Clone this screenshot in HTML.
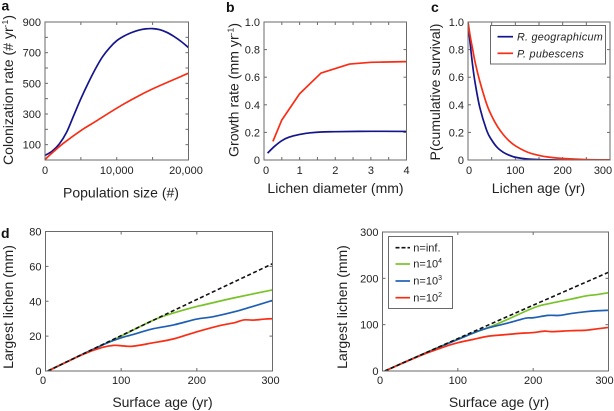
<!DOCTYPE html>
<html>
<head>
<meta charset="utf-8">
<style>
html,body{margin:0;padding:0;background:#fff;width:614px;height:411px;overflow:hidden}
svg{display:block;font-family:"Liberation Sans",sans-serif;filter:blur(0.3px)}
</style>
</head>
<body>
<svg id="fig" width="614" height="411" viewBox="0 0 614 411" xmlns="http://www.w3.org/2000/svg"></svg>
<script>
// Panel a
const aBlueX = [0,1000,2000,3000,4000,5000,6000,7000,8000,9000,10000,11000,12000,13000,14000,15000,16000,17000,18000,19000,20000];
const aBlueY = [30,58,105,180,290,400,500,592,672,732,778,808,830,846,855,857,850,832,805,772,733];
const aRedX = [0,1250,2650,5000,6272,7300,10000,12400,15000,20000];
const aRedY = [3,57,112,192,229,259,338,402,464,566];
const aXTicks = [0,5000,10000,15000,20000];
const aXLabels = ["0","","10,000","","20,000"];
const aYTicks = [0,100,200,300,400,500,600,700,800,900];
const aYLabels = ["","100","","300","","500","","700","","900"];
// Panel b
const bBlueX = [0.1,0.3,0.5,0.7,1,1.3,1.6,2,3,4];
const bBlueY = [0.05,0.1,0.14,0.165,0.185,0.197,0.203,0.205,0.208,0.207];
const bRedX = [0.25,0.5,1,1.6,2.4,3,4];
const bRedY = [0.135,0.29,0.48,0.63,0.695,0.708,0.713];
const bXTicks = [0,0.5,1,1.5,2,2.5,3,3.5,4];
const bXLabels = ["0","","1","","2","","3","","4"];
const rateTicks = [0,0.2,0.4,0.6,0.8,1];
const rateLabels = ["0","0.2","0.4","0.6","0.8","1.0"];
// Panel c
const cX = [0,5,10,15,25,40,50,62,75,87,100,125,150,175,200,250,300];
const cBlueY = [1,0.83,0.68,0.56,0.38,0.21,0.145,0.09,0.055,0.035,0.02,0.007,0.003,0.001,0,0,0];
const cRedY = [1,0.89,0.8,0.71,0.57,0.4,0.32,0.244,0.182,0.138,0.103,0.058,0.033,0.019,0.011,0.003,0.001];
const cXTicks = [0,50,100,150,200,250,300];
const cXLabels = ["0","","100","","200","","300"];
// Panel d (left)
const dInfX = [3,100,200,300];
const dInfY = [0,20.3,41,61.5];
const dGreenX = [3,50,100,125,150,175,200,210,250,300];
const dGreenY = [0,9.8,20,25.5,30.5,34,37,38,42,46.5];
const dBlueX = [3,50,80,100,120,140,170,200,220,250,270,300];
const dBlueY = [0,9.8,15.8,19,21.5,24,26.5,29.8,31,34,36.5,40.5];
const dRedX = [3,50,75,90,100,115,140,170,200,230,250,262,275,290,300];
const dRedY = [0,9.6,13.5,14.7,14.5,14.2,16,18.5,22.5,26,27.7,29.3,29.2,29.8,30];
const dXTicks = [0,100,200,300];
const dXLabels = ["0","100","200","300"];
const dYTicks = [0,20,40,60,80];
const dYLabels = ["0","20","40","60","80"];
// Panel e (right)
const eInfX = [3,100,200,300];
const eInfY = [0,70,142,213];
const eGreenX = [3,50,100,150,200,220,250,270,285,300];
const eGreenY = [0,34,69,100,136,145,155,162,165,169];
const eBlueX = [3,50,100,130,150,170,190,200,220,235,250,270,285,300];
const eBlueY = [0,34,68,88,97,105,114,115,120,120,124,128,130,131];
const eRedX = [3,50,80,100,120,140,160,180,200,215,225,250,270,285,300];
const eRedY = [0,33,51,61,68,75,78,81,83,86,85,87,88,91,94];
const eYTicks = [0,100,200,300];
const eYLabels = ["0","100","200","300"];

const NS = "http://www.w3.org/2000/svg";
const fig = document.getElementById("fig");
const AXIS = "#6a6a6a", TEXT = "#222", NAVY = "#14148c", RED = "#fa2d14", GREEN = "#78c328", BLUE = "#1e5fb4", BLACK = "#111";
const TICK_FONT = 11, TITLE_FONT = 14;

function mk(tag, attrs, parent) {
  const e = document.createElementNS(NS, tag);
  for (const k in attrs) e.setAttribute(k, attrs[k]);
  (parent || fig).appendChild(e);
  return e;
}
function label(x, y, str, size, anchor, parent) {
  const t = mk("text", {x: x, y: y, "font-size": size, "text-anchor": anchor || "middle", fill: TEXT}, parent);
  t.textContent = str;
  
  
  return t;
}
function smooth(pts) {
  let d = "M" + pts[0][0].toFixed(2) + " " + pts[0][1].toFixed(2);
  for (let i = 0; i < pts.length - 1; i++) {
    const p0 = pts[Math.max(i - 1, 0)], p1 = pts[i], p2 = pts[i + 1], p3 = pts[Math.min(i + 2, pts.length - 1)];
    const c1x = p1[0] + (p2[0] - p0[0]) / 6, c1y = p1[1] + (p2[1] - p0[1]) / 6;
    const c2x = p2[0] - (p3[0] - p1[0]) / 6, c2y = p2[1] - (p3[1] - p1[1]) / 6;
    d += "C" + c1x.toFixed(2) + " " + c1y.toFixed(2) + " " + c2x.toFixed(2) + " " + c2y.toFixed(2) + " " + p2[0].toFixed(2) + " " + p2[1].toFixed(2);
  }
  return d;
}
function panel(o) {
  const g = mk("g", {});
  
  
  const sx = v => o.l + (v - o.xMin) / (o.xMax - o.xMin) * (o.r - o.l);
  const sy = v => o.b - (v - o.yMin) / (o.yMax - o.yMin) * (o.b - o.t);
  const axisG = mk("g", {stroke: AXIS, "stroke-width": 1, fill: "none"}, g);
  
  
  o.xTicks.forEach((v, i) => {
    const x = sx(v);
    mk("line", {x1: x, x2: x, y1: o.b, y2: o.b - 3}, axisG);
    mk("line", {x1: x, x2: x, y1: o.t, y2: o.t + 3}, axisG);
    let dx = 0;
    if (i === 0) dx = o.firstDx || 0;
    if (i === o.xTicks.length - 1) dx = o.lastDx || 0;
    if (o.xLabels[i]) label(x + dx, o.b + (o.xLabY || 14), o.xLabels[i], TICK_FONT, "middle", g);
  });
  o.yTicks.forEach((v, i) => {
    const y = sy(v);
    mk("line", {x1: o.l, x2: o.l + 3, y1: y, y2: y}, axisG);
    mk("line", {x1: o.r, x2: o.r - 3, y1: y, y2: y}, axisG);
    if (o.yLabels[i]) label(o.l - 4, y + 4, o.yLabels[i], TICK_FONT, "end", g);
  });
  const clip = o.name + "-clip";
  const cp = mk("clipPath", {id: clip}, g);
  mk("rect", {x: o.l, y: o.t, width: o.r - o.l, height: o.b - o.t}, cp);
  o.series.forEach(s => {
    const pts = s.x.map((v, i) => [sx(v), sy(s.y[i])]);
    const p = mk("path", {d: s.straight ? "M" + pts.map(q => q[0].toFixed(2) + " " + q[1].toFixed(2)).join("L") : smooth(pts), fill: "none", stroke: s.color, "stroke-width": s.w || 1.7, "stroke-linejoin": "round", "clip-path": "url(#" + clip + ")"}, g);
    if (s.dash) p.setAttribute("stroke-dasharray", s.dash);
    
    
  });
  const frame = mk("rect", {x: o.l, y: o.t, width: o.r - o.l, height: o.b - o.t, fill: "none", stroke: AXIS, "stroke-width": 1}, g);
  
  
  label(o.xtX, o.xtY, o.xTitle, TITLE_FONT, "middle", g);
  return g;
}
function rotTitle(x, y, parts, g, len) {
  const t = mk("text", {x: x, y: y, "font-size": TITLE_FONT, "text-anchor": "middle", fill: TEXT, transform: "rotate(-90 " + x + " " + y + ")"}, g);
  if (len) {
    t.setAttribute("textLength", len);
    t.setAttribute("lengthAdjust", "spacingAndGlyphs");
  }
  
  
  parts.forEach(p => {
    const s = mk("tspan", {}, t);
    if (p.sup) { s.setAttribute("font-size", 8.5); s.setAttribute("dy", -5); }
    if (p.down) { s.setAttribute("dy", 5); }
    s.textContent = p.s;
  });
}
function letter(x, y, s) {
  const t = mk("text", {x: x, y: y, "font-size": 14, "font-weight": "bold", fill: "#111"});
  
  
  t.textContent = s;
}

const ga = panel({name: "panel-a", l: 45, r: 188.5, t: 22, b: 160, xMin: 0, xMax: 20000, yMin: 0, yMax: 900,
  xTicks: aXTicks, xLabels: aXLabels, yTicks: aYTicks, yLabels: aYLabels, lastDx: -2.5, xTitle: "Population size (#)", xtX: 121, xtY: 197.5,
  series: [{name: "blue-colonization-line", x: aBlueX, y: aBlueY, color: NAVY}, {name: "red-colonization-line", x: aRedX, y: aRedY, color: RED}]});
rotTitle(13, 90, [{s: "Colonization rate (# yr"}, {s: "-1", sup: 1}, {s: ")", down: 1}], ga, 150);

const gb = panel({name: "panel-b", l: 264, r: 406.5, t: 22, b: 160, xMin: 0, xMax: 4, yMin: 0, yMax: 1,
  xTicks: bXTicks, xLabels: bXLabels, yTicks: rateTicks, yLabels: rateLabels, firstDx: 2, xTitle: "Lichen diameter (mm)", xtX: 335.5, xtY: 193,
  series: [{name: "blue-growth-line", x: bBlueX, y: bBlueY, color: NAVY}, {name: "red-growth-line", x: bRedX, y: bRedY, color: RED, straight: true}]});
rotTitle(238.5, 90, [{s: "Growth rate (mm yr"}, {s: "-1", sup: 1}, {s: ")", down: 1}], gb, 134);

const gc = panel({name: "panel-c", l: 468, r: 610, t: 22, b: 160, xMin: 0, xMax: 300, yMin: 0, yMax: 1,
  xTicks: cXTicks, xLabels: cXLabels, yTicks: rateTicks, yLabels: rateLabels, firstDx: 1, lastDx: -7, xTitle: "Lichen age (yr)", xtX: 538.5, xtY: 193,
  series: [{name: "r-geographicum-line", x: cX, y: cBlueY, color: NAVY}, {name: "p-pubescens-line", x: cX, y: cRedY, color: RED}]});
rotTitle(440, 92, [{s: "P(cumulative survival)"}], gc);

const gd = panel({name: "panel-d-left", l: 45.5, r: 272.5, t: 231.5, b: 371, xMin: 0, xMax: 300, yMin: 0, yMax: 80,
  xTicks: dXTicks, xLabels: dXLabels, yTicks: dYTicks, yLabels: dYLabels, firstDx: -2.5, lastDx: -2, xLabY: 13, xTitle: "Surface age (yr)", xtX: 162.5, xtY: 407,
  series: [
    {name: "n-1e4-line", x: dGreenX, y: dGreenY, color: GREEN},
    {name: "n-1e3-line", x: dBlueX, y: dBlueY, color: BLUE},
    {name: "n-1e2-line", x: dRedX, y: dRedY, color: RED},
    {name: "n-inf-line", x: dInfX, y: dInfY, color: BLACK, dash: "4 2.5", w: 1.6}]});
rotTitle(13, 307, [{s: "Largest lichen (mm)"}], gd);

const ge = panel({name: "panel-d-right", l: 382.5, r: 608.5, t: 232, b: 371, xMin: 0, xMax: 300, yMin: 0, yMax: 300,
  xTicks: dXTicks, xLabels: dXLabels, yTicks: eYTicks, yLabels: eYLabels, firstDx: -2.5, lastDx: -4, xLabY: 13, xTitle: "Surface age (yr)", xtX: 499, xtY: 407,
  series: [
    {name: "n-1e4-line", x: eGreenX, y: eGreenY, color: GREEN},
    {name: "n-1e3-line", x: eBlueX, y: eBlueY, color: BLUE},
    {name: "n-1e2-line", x: eRedX, y: eRedY, color: RED},
    {name: "n-inf-line", x: eInfX, y: eInfY, color: BLACK, dash: "4 2.5", w: 1.6}]});
rotTitle(347, 307, [{s: "Largest lichen (mm)"}], ge);

letter(1.5, 10.5, "a");
letter(226, 12, "b");
letter(431, 12, "c");
letter(1, 238, "d");

// Legend c
const lc = mk("g", {});


mk("rect", {x: 490.5, y: 25.5, width: 115, height: 38.5, fill: "#fff", stroke: AXIS, "stroke-width": 1}, lc);
mk("line", {x1: 497.5, x2: 513, y1: 36.7, y2: 36.7, stroke: NAVY, "stroke-width": 1.7}, lc);
mk("line", {x1: 497.5, x2: 513, y1: 53.3, y2: 53.3, stroke: RED, "stroke-width": 1.7}, lc);
const lt1 = label(517, 40.5, "R. geographicum", 10.8, "start", lc);
lt1.setAttribute("font-style", "italic");
lt1.setAttribute("letter-spacing", "0.25");
const lt2 = label(517, 57.5, "P. pubescens", 10.8, "start", lc);
lt2.setAttribute("font-style", "italic");
lt2.setAttribute("letter-spacing", "0.25");

// Legend d
const ld = mk("g", {});


mk("rect", {x: 388.5, y: 236.5, width: 64, height: 72, fill: "#fff", stroke: AXIS, "stroke-width": 1}, ld);
const legendColors = [BLACK, GREEN, BLUE, RED];
const legendY = [247.7, 264, 281, 297.7];
const legendBase = ["n=inf.", "n=10", "n=10", "n=10"];
const legendSup = ["", "4", "3", "2"];
legendColors.forEach((c, i) => {
  const ln = mk("line", {x1: 395.5, x2: 410, y1: legendY[i], y2: legendY[i], stroke: c, "stroke-width": 1.7}, ld);
  if (i === 0) ln.setAttribute("stroke-dasharray", "4 2");
  const t = label(413.3, legendY[i] + 3.7, legendBase[i], 11, "start", ld);
  if (legendSup[i]) {
    const s = mk("tspan", {"font-size": 7, dy: -4.5}, t);
    s.textContent = legendSup[i];
  }
});
</script>
</body>
</html>
